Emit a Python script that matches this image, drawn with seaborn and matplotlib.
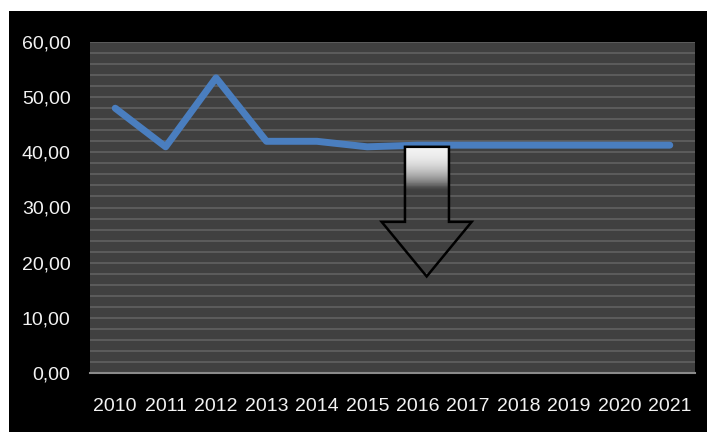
import numpy as np
import pandas as pd
import matplotlib
matplotlib.use("Agg")
import matplotlib.pyplot as plt
import seaborn as sns
from matplotlib.patches import Rectangle, Polygon
from matplotlib.ticker import MultipleLocator

years = ["2010", "2011", "2012", "2013", "2014", "2015", "2016",
         "2017", "2018", "2019", "2020", "2021"]
values = [48.0, 41.0, 53.5, 42.0, 42.0, 41.0, 41.3, 41.3, 41.3, 41.3, 41.3, 41.3]
y_ticks = [0, 10, 20, 30, 40, 50, 60]
y_tick_labels = ["0,00", "10,00", "20,00", "30,00", "40,00", "50,00", "60,00"]

sns.set_theme(style="dark")
plt.rcParams["font.family"] = ["Liberation Sans", "DejaVu Sans"]

W, H = 707, 432
fig = plt.figure(figsize=(W / 100, H / 100), dpi=100)
fig.patch.set_facecolor("white")
fig.patches.append(Rectangle((9 / W, 0), 1 - 9 / W, 1 - 11 / H, transform=fig.transFigure,
                             facecolor="black", edgecolor="none", zorder=-10))

ax = fig.add_axes([90 / W, (H - 373) / H, (695 - 90) / W, (373 - 42) / H])
ax.set_zorder(1)
ax.set_facecolor("#404040")

df = pd.DataFrame({"year": years, "value": values})
df["pos"] = np.arange(len(years))
sns.lineplot(data=df, x="pos", y="value", ax=ax, color="#4a7ebf", linewidth=5,
             solid_capstyle="round", solid_joinstyle="round", zorder=3)

ax.set_xlim(-0.5, len(years) - 0.5)
ax.set_ylim(0, 60)
ax.set_xticks(df["pos"])
ax.set_xticklabels(years)
ax.set_yticks(y_ticks)
ax.set_yticklabels(y_tick_labels)
ax.yaxis.set_minor_locator(MultipleLocator(2))
ax.grid(True, which="both", axis="y", color="#5e5e5e", linewidth=1.3)
ax.grid(False, axis="x")
ax.set_axisbelow(True)
ax.set_xlabel("")
ax.set_ylabel("")
for s in ["top", "right", "left"]:
    ax.spines[s].set_visible(False)
ax.spines["bottom"].set_color("#8a8a8a")
ax.spines["bottom"].set_linewidth(1.5)
ax.tick_params(axis="both", which="both", length=0, colors="#f2f2f2", labelsize=14)
ax.tick_params(axis="y", pad=14)
ax.tick_params(axis="x", pad=18)

# down arrow with gradient fill
bx0, bx1 = 5.747, 6.62
hx0, hx1, tipx = 5.285, 7.07, 6.178
ytop, ybase, ytip = 41.0, 27.4, 17.5
pts = [(bx0, ytop), (bx1, ytop), (bx1, ybase), (hx1, ybase), (tipx, ytip),
       (hx0, ybase), (bx0, ybase)]
poly = Polygon(pts, closed=True, facecolor="none", edgecolor="black", linewidth=1.8, zorder=6)
ax.add_patch(poly)
clip = Polygon(pts, closed=True, transform=ax.transData, facecolor="none", edgecolor="none")
ax.add_patch(clip)
n = 300
t = np.linspace(0, 1, n)[:, None]  # 0 top -> 1 bottom
grad = np.zeros((n, 2, 4))
shade = np.clip(0.95 - 0.9 * np.clip(t / 0.38, 0, 1) ** 2.2, 0.25, 1)
alpha = np.clip(1.0 - (t - 0.28) / 0.12, 0, 1)
grad[..., 0] = shade
grad[..., 1] = shade
grad[..., 2] = shade
grad[..., 3] = alpha
im = ax.imshow(grad, extent=(hx0, hx1, ytip, ytop), aspect="auto", origin="upper",
               zorder=5, interpolation="bilinear")
im.set_clip_path(clip)
ax.set_xlim(-0.5, len(years) - 0.5)
ax.set_ylim(0, 60)

fig.savefig("out.png", dpi=100, facecolor=fig.get_facecolor())
